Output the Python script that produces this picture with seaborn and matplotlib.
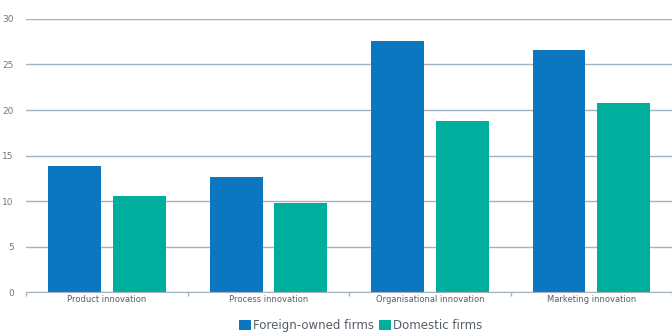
import seaborn as sns
import matplotlib.pyplot as plt
import pandas as pd

## Innovation types, foreign-owned vs domestic firms

categories = ['Product innovation', 'Process innovation', 'Organisational innovation', 'Marketing innovation']
foreign = [13.9, 12.6, 27.6, 26.6]
domestic = [10.6, 9.8, 18.8, 20.8]
series = ['Foreign-owned firms', 'Domestic firms']

data = pd.DataFrame({'category': categories * 2,
                     'firms': [series[0]] * 4 + [series[1]] * 4,
                     'value': foreign + domestic})

sns.set_style('white')
plt.rcParams['font.family'] = ['DejaVu Sans']

fig = plt.figure(figsize=(6.72, 3.32), dpi=100)
ax = fig.add_axes([0.039, 0.12, 0.961, 0.823])

sns.barplot(x='category', y='value', hue='firms', data=data, ax=ax,
            palette=['#0b77c0', '#00ae9e'], width=0.8, gap=0.18,
            saturation=1, linewidth=0, legend=True)

ax.set_ylim(0, 30)
ax.set_xlim(-0.5, 3.5)
ax.set_yticks([0, 5, 10, 15, 20, 25, 30])
ax.yaxis.grid(True, color='#a3b3bf', linewidth=1)
ax.set_axisbelow(True)
for s in ['top', 'right', 'left']:
    ax.spines[s].set_visible(False)
ax.spines['bottom'].set_color('#a3b3bf')
ax.set_xlabel('')
ax.set_ylabel('')

ax.tick_params(axis='y', length=0, labelsize=6.5, labelcolor='#707a80', pad=9)
ax.tick_params(axis='x', which='major', length=0, labelsize=6, labelcolor='#555e66', pad=2)
ax.set_xticks([-0.5, 0.5, 1.5, 2.5, 3.5], minor=True)
ax.tick_params(axis='x', which='minor', bottom=True, length=3, width=1,
               color='#a3b3bf', direction='out')

ax.legend(loc='lower center', bbox_to_anchor=(0.537, -0.025), bbox_transform=fig.transFigure,
          ncol=2, frameon=False, fontsize=8.5, handlelength=1.0, handleheight=1.0,
          handletextpad=0.2, columnspacing=0.4, labelcolor='#555e66', borderpad=0.2)

fig.savefig('out.png', dpi=100)
